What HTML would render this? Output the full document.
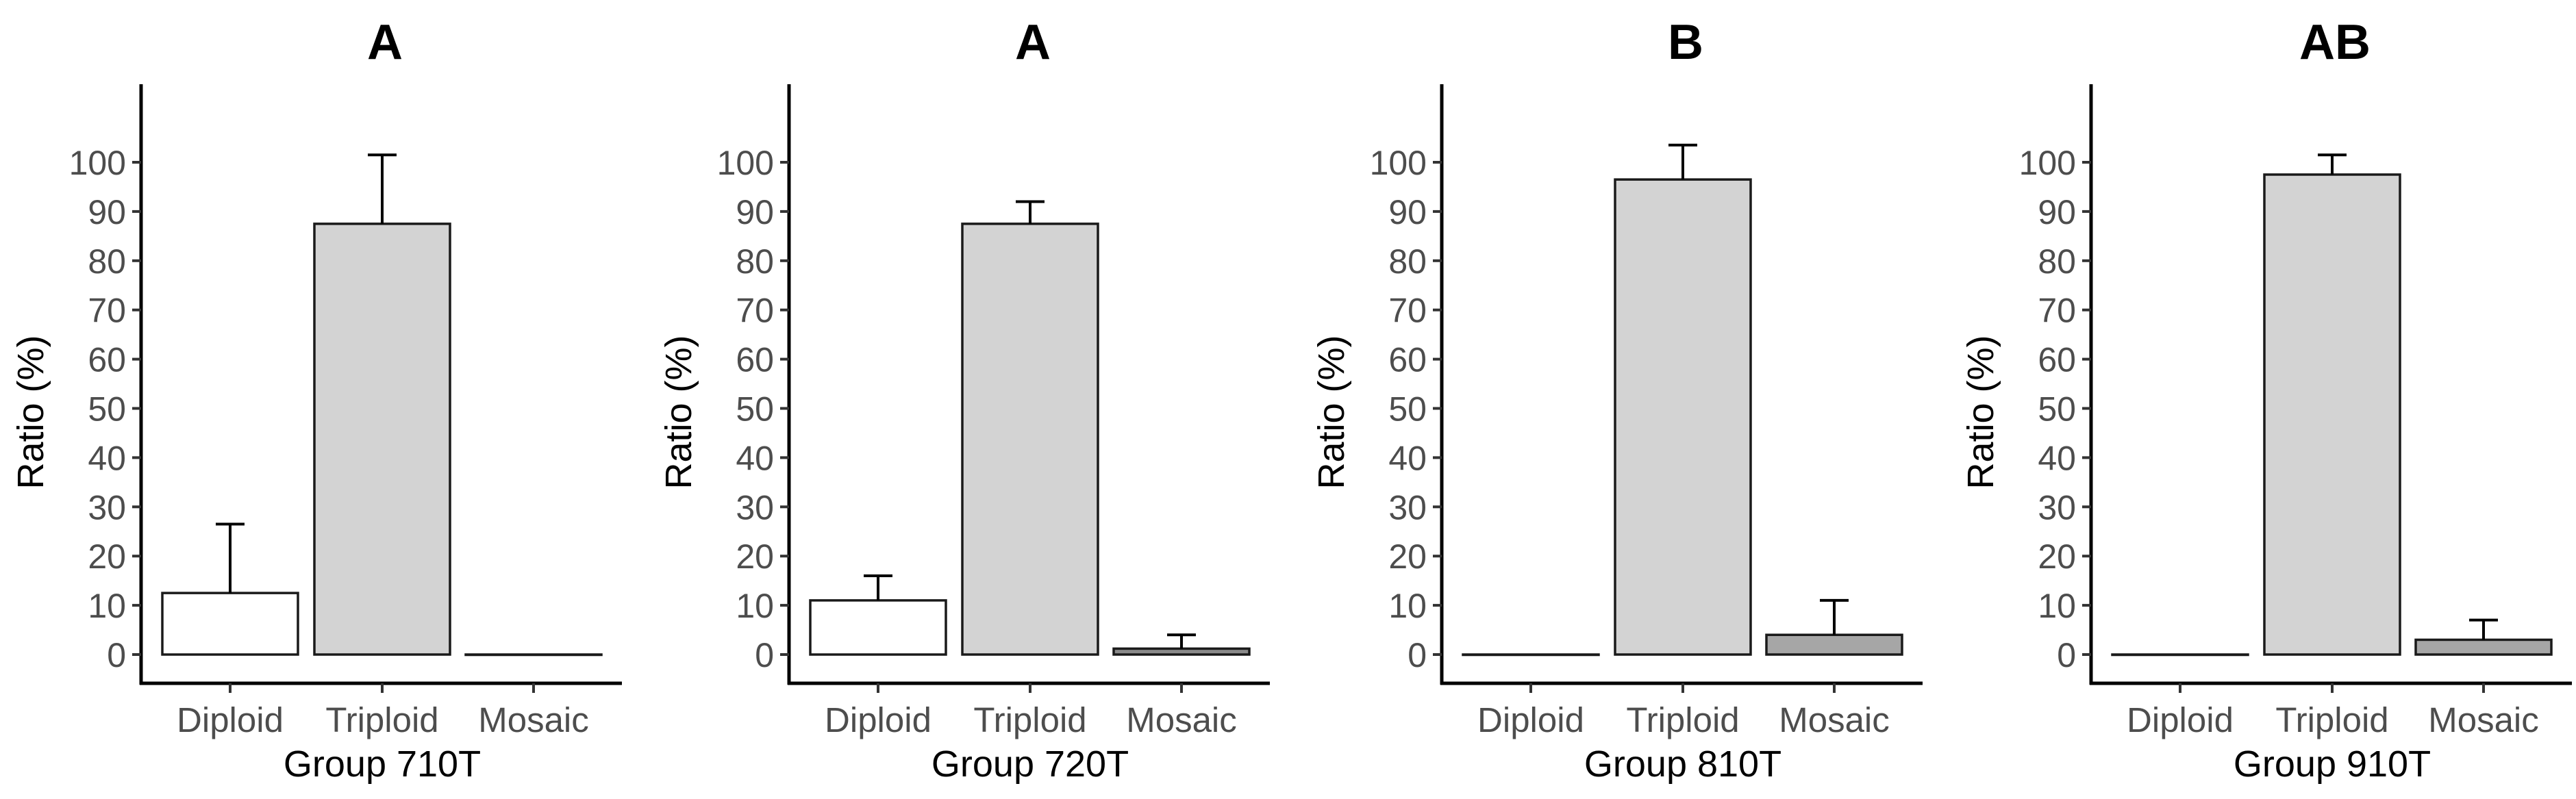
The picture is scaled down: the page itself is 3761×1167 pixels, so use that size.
<!DOCTYPE html>
<html><head><meta charset="utf-8"><style>
html,body{margin:0;padding:0;background:#fff;}
svg{display:block;font-family:"Liberation Sans",Arial,sans-serif;}
</style></head><body>
<svg id="chart" width="3761" height="1167" viewBox="0 0 3761 1167" xmlns="http://www.w3.org/2000/svg"></svg>
<script>
const categories = ["Diploid", "Triploid", "Mosaic"];
const panelTitles = ["A", "A", "B", "AB"];
const groupLabels = ["Group 710T", "Group 720T", "Group 810T", "Group 910T"];
const means710 = [12.5, 87.5, 0];
const means720 = [11, 87.5, 1.2];
const means810 = [0, 96.5, 4];
const means910 = [0, 97.5, 3];
const upper710 = [26.5, 101.5, null];
const upper720 = [16, 92, 4];
const upper810 = [null, 103.5, 11];
const upper910 = [null, 101.5, 7];
const yTicks = [0, 10, 20, 30, 40, 50, 60, 70, 80, 90, 100];

const means = [means710, means720, means810, means910];
const uppers = [upper710, upper720, upper810, upper910];
const axisX = [206, 1152, 2105, 3053];
const mosaicFill = ["#a6a6a6", "#8a8a8a", "#a6a6a6", "#a6a6a6"];
const fills = ["#ffffff", "#d3d3d3"];

const NS = "http://www.w3.org/2000/svg";
const svg = document.getElementById("chart");
const Y0 = 956, UNIT = 7.19;
function y(v){ return Y0 - v * UNIT; }
function xc(i){ return [130, 352, 573][i]; }
function mk(tag, attrs, parent){
  const e = document.createElementNS(NS, tag);
  for (const k in attrs) e.setAttribute(k, attrs[k]);
  (parent || svg).appendChild(e);
  return e;
}

for (let p = 0; p < 4; p++) {
  const g = mk("g", {transform: "translate(" + axisX[p] + ",0)"});
  
  

  const t = mk("text", {x: 356, y: 86, "text-anchor": "middle", "font-size": 72, "font-weight": "bold", fill: "#000"}, g);
  t.textContent = panelTitles[p];
  
  

  // bars
  for (let i = 0; i < 3; i++) {
    const v = means[p][i];
    const fill = i === 2 ? mosaicFill[p] : fills[i];
    const r = mk("rect", {x: xc(i) - 99, y: y(v), width: 198, height: Math.max(Y0 - y(v), 0.5), fill: fill, stroke: "#1a1a1a", "stroke-width": 3.5}, g);
    
    
    const u = uppers[p][i];
    if (u !== null) {
      const eb = mk("path", {d: "M" + xc(i) + "," + y(v) + " V" + y(u) + " M" + (xc(i) - 21) + "," + y(u) + " H" + (xc(i) + 21), stroke: "#000", "stroke-width": 4, fill: "none"}, g);
      
      
    }
  }

  // y axis
  const ya = mk("path", {d: "M0,123 V1000", stroke: "#000", "stroke-width": 5, fill: "none"}, g);
  
  
  const xa = mk("path", {d: "M-2,998 H702", stroke: "#000", "stroke-width": 5, fill: "none"}, g);
  
  

  for (const tv of yTicks) {
    const tk = mk("path", {d: "M-13," + y(tv) + " H0", stroke: "#333", "stroke-width": 4}, g);
    
    
    const tl = mk("text", {x: -22, y: y(tv) + 18, "text-anchor": "end", "font-size": 50, fill: "#4d4d4d"}, g);
    tl.textContent = tv;
    
    
  }
  for (let i = 0; i < 3; i++) {
    const tk = mk("path", {d: "M" + xc(i) + ",998 V1012", stroke: "#333", "stroke-width": 4}, g);
    
    
    const tl = mk("text", {x: xc(i), y: 1069, "text-anchor": "middle", "font-size": 51, fill: "#4d4d4d"}, g);
    tl.textContent = categories[i];
    
    
  }
  const yt = mk("text", {x: 0, y: 0, transform: "translate(-143,602) rotate(-90)", "text-anchor": "middle", "font-size": 54, fill: "#000"}, g);
  yt.textContent = "Ratio (%)";
  
  
  const xt = mk("text", {x: 352, y: 1134, "text-anchor": "middle", "font-size": 54, fill: "#000"}, g);
  xt.textContent = groupLabels[p];
  
  
}
</script>
</body></html>
